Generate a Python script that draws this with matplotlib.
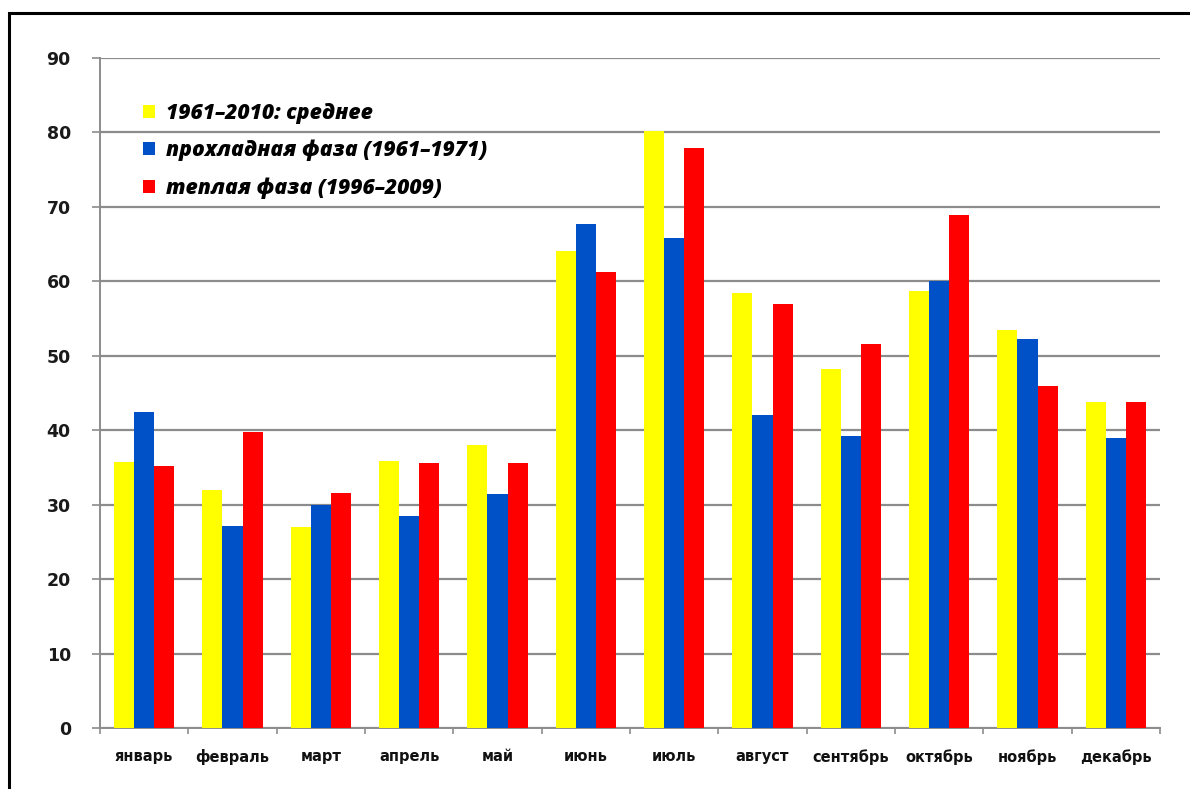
import matplotlib
matplotlib.use("Agg")
import matplotlib.pyplot as plt
import numpy as np
from matplotlib.patches import Rectangle

months = ["январь", "февраль", "март", "апрель", "май", "июнь",
          "июль", "август", "сентябрь", "октябрь", "ноябрь", "декабрь"]
mean_1961_2010 = [35.7, 32.0, 27.0, 35.8, 38.0, 64.1, 80.2, 58.5, 48.2, 58.7, 53.4, 43.8]
cool_1961_1971 = [42.5, 27.2, 30.0, 28.5, 31.5, 67.7, 65.8, 42.0, 39.2, 60.0, 52.3, 38.9]
warm_1996_2009 = [35.2, 39.7, 31.6, 35.6, 35.6, 61.3, 77.9, 56.9, 51.6, 68.9, 45.9, 43.8]
series_labels = ["1961–2010: среднее",
                 "прохладная фаза (1961–1971)",
                 "теплая фаза (1996–2009)"]
series_colors = ["#ffff00", "#0050c8", "#ff0000"]
y_ticks = list(range(0, 91, 10))

fig = plt.figure(figsize=(11.9, 7.89), dpi=100)
ax = fig.add_axes([100 / 1190, 1 - 728 / 789, 1060 / 1190, 670 / 789])

x = np.arange(len(months))
w = 0.227
for k, (vals, lab, col) in enumerate(zip(
        [mean_1961_2010, cool_1961_1971, warm_1996_2009], series_labels, series_colors)):
    ax.bar(x + (k - 1) * w, vals, width=w, color=col, label=lab, zorder=3)

ax.set_xlim(-0.5, len(months) - 0.5)
ax.set_ylim(0, 90)
ax.set_yticks(y_ticks)
ax.set_yticklabels([str(v) for v in y_ticks], fontsize=12.5, fontweight="bold",
                   family="DejaVu Sans", color="#1a1a1a")
ax.set_xticks(x)
ax.set_xticklabels(months, fontsize=10.5, fontweight="bold", family="DejaVu Sans",
                   color="#111111")
ax.tick_params(axis="x", length=0, pad=15)
ax.tick_params(axis="y", length=6, width=1.2, color="#8c8c8c", pad=15)

# category boundary ticks on the x axis
ax.set_xticks(np.arange(-0.5, len(months) + 0.5, 1.0), minor=True)
ax.tick_params(axis="x", which="minor", length=4, width=1.2, color="#8c8c8c")

ax.yaxis.grid(True, color="#8c8c8c", linewidth=1.6, zorder=0)
ax.set_axisbelow(True)
for side in ["top", "right"]:
    ax.spines[side].set_visible(False)
for side in ["left", "bottom"]:
    ax.spines[side].set_color("#8c8c8c")
    ax.spines[side].set_linewidth(1.4)

leg = ax.legend(loc="upper left", bbox_to_anchor=(0.033, 0.946), frameon=False,
                prop={"family": "Open Sans", "weight": 800, "style": "italic",
                      "size": 15.2},
                handlelength=0.55, handleheight=0.55, handletextpad=0.5,
                labelspacing=0.76, borderaxespad=0)

# outer frame
fig.patches.append(Rectangle((9 / 1190, -0.1), 1.2, 1 - 13 / 789 + 0.1,
                             transform=fig.transFigure, fill=False,
                             edgecolor="black", linewidth=2.2, clip_on=False))

fig.savefig("out.png", dpi=100)
